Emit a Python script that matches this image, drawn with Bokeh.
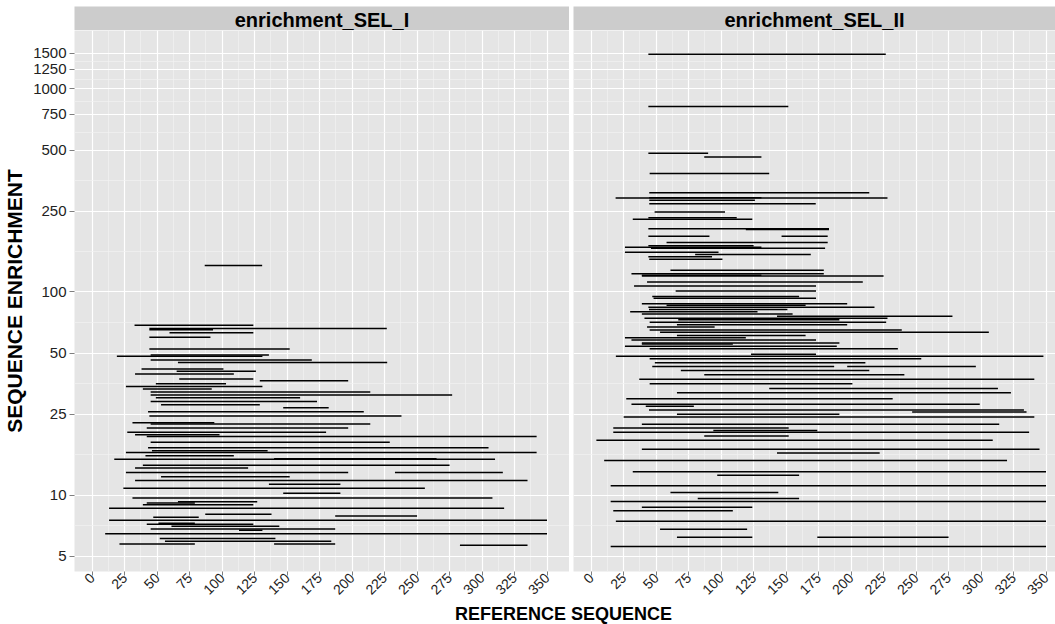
import math
from bokeh.plotting import figure
from bokeh.layouts import column, row
from bokeh.models import ColumnDataSource, FixedTicker, PrintfTickFormatter, Range1d
from bokeh.core.properties import value
from bokeh.embed import file_html
from bokeh.resources import INLINE

FONT = "Liberation Sans"

# ---------------- data ----------------
panel_names = ["enrichment_SEL_I", "enrichment_SEL_II"]

sel1_start = [86.6, 32.6, 44, 44, 59.5, 44, 44, 45, 19, 45, 66, 38, 65, 33, 67, 129, 49, 26, 39, 45,
              45, 49, 45, 53, 147, 43, 44, 31, 45, 42, 27, 33, 42, 45, 43, 46, 26, 41, 17, 140,
              39, 33, 26, 233, 53, 33, 136, 24, 147, 31, 66, 42, 39, 13, 87, 187, 47, 13, 51, 42,
              61, 45, 113, 10, 52, 56, 21, 140, 283]
sel1_end = [130.8, 124, 226.7, 93, 124, 91, 152, 136, 131, 169, 227, 101, 126, 109, 124, 197, 103, 131, 92, 214,
            277, 160, 173, 129, 182, 209, 238, 94, 214, 197, 180, 98, 342, 229, 305, 135, 342, 109, 310, 265,
            275, 120, 197, 316, 152, 335, 191, 256, 191, 308, 127, 79, 124, 317, 138, 250, 82, 350, 79, 124,
            144, 187, 131, 350, 141, 184, 79, 187, 335]
sel1_enrich = [135, 68.6, 66.1, 65.2, 63.0, 59.9, 52.3, 48.9, 48.2, 46.2, 44.9, 41.8, 40.7, 39.5, 37.3, 36.5, 35.3, 34.2, 33.3, 32.2,
               31.1, 30.1, 28.9, 27.8, 26.9, 25.7, 24.5, 22.7, 22.4, 21.4, 20.4, 19.8, 19.4, 18.2, 17.1, 16.5, 16.2, 15.6, 15.0, 15.1,
               14.0, 13.6, 12.9, 12.9, 12.3, 11.8, 11.3, 10.8, 10.2, 9.67, 9.27, 9.14, 8.96, 8.6, 8.03, 7.89, 7.77, 7.5, 7.25, 7.17,
               7.02, 6.81, 6.7, 6.45, 6.1, 5.92, 5.73, 5.73, 5.66]

sel2_start = [44, 44, 44, 87, 45, 44.7, 18.8, 44.7, 44.7, 44.7, 48.8, 44, 32, 44, 119, 44, 146.5, 58, 44, 26,
              46, 26, 80, 44, 44.7, 61, 31, 39, 39, 43, 33, 65, 47, 48, 39, 58, 44, 44.5, 30, 39,
              143, 41, 67, 45, 66, 43, 45, 53, 66, 26, 31, 39, 39, 26, 45, 19, 123, 45, 49, 47,
              197, 69, 87, 37, 45, 137, 66, 27, 31, 42, 44.5, 247, 66, 25, 39, 17, 94, 17, 87, 4,
              39, 143, 10, 32, 97, 15, 61, 82, 15, 39, 17, 19, 53, 66, 174, 15]
sel2_end = [226.7, 151.7, 90, 131, 137, 214, 228, 131, 126, 172.8, 103, 112, 124, 183, 183, 91, 182, 182, 125, 131,
            180, 98, 169, 93, 101, 179, 179, 131, 225, 209, 173, 173, 160, 173, 197, 165, 218, 151, 128, 155,
            278, 228, 191, 227, 197, 95, 239, 306, 165, 119, 173, 191, 109, 189, 236, 348, 173, 254, 211, 187,
            296, 214, 241, 341, 201, 313, 323, 232, 299, 79, 333, 335, 191, 341, 314, 152, 174, 337, 152, 309,
            345, 222, 320, 350, 160, 350, 144, 160, 350, 124, 109, 350, 120, 124, 275, 350]
sel2_enrich = [1480, 820, 482, 462, 383, 308, 290, 291, 283, 272, 248, 232, 228, 205, 203, 188, 188, 175, 169, 166,
               164, 157, 153, 149, 145, 128, 123, 121, 120, 112, 107, 101, 95, 93, 87.5, 85.9, 84, 82, 80, 78,
               76, 74.3, 73, 71, 69, 67.2, 64.9, 63.4, 61.1, 59.5, 58, 56, 55.4, 54.1, 52.5, 48.3, 49.3, 46.9, 44.8, 42.9,
               42.9, 41, 39.1, 37.2, 35.3, 33.5, 31.9, 29.8, 28, 27.4, 26.2, 25.6, 25, 24.2, 22.3, 21.4, 20.8, 20.4, 19.5, 18.6,
               16.8, 16.1, 14.8, 13.0, 12.5, 11.1, 10.3, 9.6, 9.3, 8.7, 8.37, 7.43, 6.79, 6.2, 6.2, 5.58]

y_ticks = [5, 10, 25, 50, 100, 250, 500, 750, 1000, 1250, 1500]
x_ticks = list(range(0, 351, 25))

x_title = "REFERENCE SEQUENCE"
y_title = "SEQUENCE ENRICHMENT"

# minor breaks halfway between majors (in transformed space)
y_minor = [math.sqrt(a * b) for a, b in zip(y_ticks[:-1], y_ticks[1:])]
x_minor = [(a + b) / 2 for a, b in zip(x_ticks[:-1], x_ticks[1:])]

# ---------------- layout constants ----------------
LB = 74          # left border of first panel (y axis)
GAP = 4          # gap between panels
FW1 = 495        # frame width of left panel
FW2 = 482        # frame width of right panel (cut like the reference)
STRIP_TOP = 6
STRIP_H = 24
FRAME_H = 541
BOTTOM_B = 32
XT_H = 624 - STRIP_TOP - STRIP_H - FRAME_H - BOTTOM_B
TOTAL_W = LB + FW1 + GAP + FW2

X_LO, X_HI = -13.6, 367.3
SCALE = FW1 / (X_HI - X_LO)
X_HI2 = X_LO + FW2 / SCALE
Y_LO, Y_HI = 4.2, 1940

PANEL_BG = "#E5E5E5"
STRIP_BG = "#CCCCCC"
TXT = "#222222"


def style_panel(p, show_y):
    xt = FixedTicker(ticks=x_ticks, minor_ticks=x_minor)
    yt = FixedTicker(ticks=y_ticks, minor_ticks=y_minor)
    p.xaxis.ticker = xt
    p.xgrid.ticker = xt
    p.yaxis.ticker = yt
    p.ygrid.ticker = yt
    p.yaxis.formatter = PrintfTickFormatter(format="%d")
    for g in (p.xgrid, p.ygrid):
        g.grid_line_color = "white"
        g.grid_line_width = 1.2
        g.minor_grid_line_color = "#F2F2F2"
        g.minor_grid_line_width = 0.7
    for ax in (p.xaxis, p.yaxis):
        ax.axis_line_color = None
        ax.major_tick_line_color = "#7F7F7F"
        ax.major_tick_line_width = 1
        ax.major_tick_in = 0
        ax.minor_tick_line_color = None
        ax.major_label_text_font = FONT
        ax.major_label_text_color = TXT
    p.xaxis.major_tick_out = 4
    p.xaxis.major_label_standoff = 0
    p.xaxis.major_label_text_font_size = "14px"
    p.xaxis.major_label_orientation = math.pi / 4
    p.yaxis.major_tick_out = 5
    p.yaxis.major_label_standoff = 3
    p.yaxis.major_label_text_font_size = "15px"
    if show_y:
        p.yaxis.axis_label = y_title
        p.yaxis.axis_label_text_font = FONT
        p.yaxis.axis_label_text_font_size = "21px"
        p.yaxis.axis_label_text_font_style = "bold"
        p.yaxis.axis_label_text_color = "black"
        p.yaxis.axis_label_standoff = 4
    else:
        p.yaxis.visible = False


def make_panel(start, end, enrich, frame_w, border_l, x_hi, show_y):
    p = figure(width=border_l + frame_w, height=FRAME_H + BOTTOM_B,
               x_range=Range1d(X_LO, x_hi), y_range=Range1d(Y_LO, Y_HI),
               y_axis_type="log", output_backend="svg", toolbar_location=None,
               min_border_left=border_l, min_border_right=0, min_border_top=0,
               min_border_bottom=BOTTOM_B, background_fill_color=PANEL_BG,
               border_fill_color="white", outline_line_color=None)
    src = ColumnDataSource(dict(x0=start, x1=end, y=enrich))
    p.segment(x0="x0", y0="y", x1="x1", y1="y", source=src,
              line_color="black", line_width=1.5)
    style_panel(p, show_y)
    return p


def make_strip(name, frame_w, border_l):
    s = figure(width=border_l + frame_w, height=STRIP_TOP + STRIP_H,
               x_range=Range1d(0, 1), y_range=Range1d(0, 1),
               output_backend="svg", toolbar_location=None,
               min_border_left=border_l, min_border_right=0, min_border_top=STRIP_TOP,
               min_border_bottom=0, background_fill_color=STRIP_BG,
               border_fill_color="white", outline_line_color=None)
    s.axis.visible = False
    s.grid.visible = False
    s.text(x=[0.5], y=[0.45], text=[name], text_align="center", text_baseline="middle",
           text_font=value(FONT), text_font_style="bold", text_font_size="20px",
           text_color="black")
    return s


p1 = make_panel(sel1_start, sel1_end, sel1_enrich, FW1, LB, X_HI, True)
p2 = make_panel(sel2_start, sel2_end, sel2_enrich, FW2, GAP, X_HI2, False)
s1 = make_strip(panel_names[0], FW1, LB)
s2 = make_strip(panel_names[1], FW2, GAP)

xt_fig = figure(width=TOTAL_W, height=XT_H, x_range=Range1d(0, TOTAL_W), y_range=Range1d(0, XT_H),
                output_backend="svg", toolbar_location=None, min_border=0,
                background_fill_color="white", border_fill_color="white", outline_line_color=None)
xt_fig.axis.visible = False
xt_fig.grid.visible = False
xt_fig.text(x=[563], y=[XT_H], text=[x_title], text_align="center", text_baseline="top",
            text_font=value(FONT), text_font_style="bold", text_font_size="18px", text_color="black")

layout = column(row(s1, s2, spacing=0), row(p1, p2, spacing=0), xt_fig, spacing=0)

open("out.html", "w").write(file_html(layout, INLINE))
